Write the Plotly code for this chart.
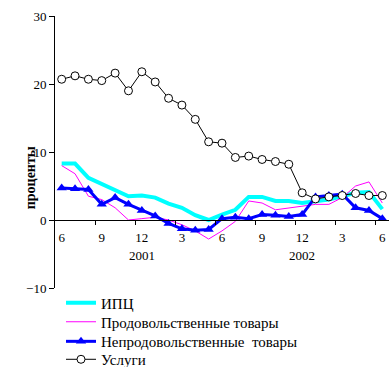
import plotly.graph_objects as go

months = ["6","7","8","9","10","11","12","1","2","3","4","5",
          "6","7","8","9","10","11","12","1","2","3","4","5","6"]
x_idx = list(range(len(months)))
tick_idx = [0, 3, 6, 9, 12, 15, 18, 21, 24]
tick_text = ["6", "9", "12", "3", "6", "9", "12", "3", "6"]
year_labels = ["2001", "2002"]
year_pos = [6, 18]

cpi = [8.3, 8.3, 6.2, 5.3, 4.4, 3.5, 3.6, 3.3, 2.4, 1.8, 0.7, 0.0,
       0.8, 1.5, 3.4, 3.4, 2.8, 2.8, 2.5, 2.7, 3.0, 3.5, 4.0, 4.1, 1.6]
food = [8.0, 6.8, 3.5, 3.0, 1.8, 0.0, 0.2, 0.4, 0.0, -0.7, -1.6, -2.8,
        -1.6, -0.2, 2.8, 2.5, 1.5, 1.8, 2.0, 2.3, 2.3, 3.3, 5.0, 5.6, 2.5]
nonfood = [4.7, 4.6, 4.5, 2.3, 3.3, 2.3, 1.4, 0.6, -0.5, -1.3, -1.5, -1.4,
           0.2, 0.4, 0.2, 0.8, 0.7, 0.5, 0.8, 3.4, 3.6, 3.8, 1.8, 1.4, 0.2]
services = [20.7, 21.2, 20.7, 20.5, 21.6, 19.0, 21.8, 20.3, 17.9, 16.9, 14.8, 11.5,
            11.3, 9.2, 9.4, 8.9, 8.6, 8.2, 4.0, 3.1, 3.4, 3.6, 3.9, 3.6, 3.6]

FONT = "Liberation Serif"
LEG_FONT = 15

fig = go.Figure()
fig.add_trace(go.Scatter(x=x_idx, y=cpi, mode="lines", name="ИПЦ", legend="legend",
                         line=dict(color="#00FFFF", width=4)))
fig.add_trace(go.Scatter(x=x_idx, y=food, mode="lines", name="Продовольственные товары",
                         legend="legend2", line=dict(color="#FF00FF", width=1)))
fig.add_trace(go.Scatter(x=x_idx, y=nonfood, mode="lines+markers",
                         name="Непродовольственные\u00a0 товары", legend="legend3",
                         line=dict(color="#0000FF", width=3),
                         marker=dict(symbol="triangle-up", size=9, color="#0000FF")))
fig.add_trace(go.Scatter(x=x_idx, y=services, mode="lines+markers", name="Услуги",
                         legend="legend4", line=dict(color="#000000", width=1),
                         marker=dict(symbol="circle", size=8, color="#FFFFFF",
                                     line=dict(color="#000000", width=1))))

def leg(yc):
    return dict(x=0.018, y=yc, xanchor="left", yanchor="middle",
                bgcolor="rgba(0,0,0,0)", font=dict(family=FONT, size=LEG_FONT),
                itemwidth=30)

fig.update_layout(
    width=391, height=367,
    margin=dict(l=55, r=2, t=16, b=79, autoexpand=False),
    paper_bgcolor="white", plot_bgcolor="white",
    font=dict(family=FONT, size=13, color="black"),
    showlegend=True,
    legend=leg(-0.055),
    legend2=leg(-0.125),
    legend3=leg(-0.197),
    legend4=leg(-0.263),
    xaxis=dict(range=[-0.5, 24.5], anchor="free", position=0.25,
               showline=True, linecolor="black", linewidth=1,
               showgrid=False, zeroline=False,
               tickmode="array", tickvals=tick_idx, ticktext=tick_text,
               ticks="", ticklabelstandoff=5, tickfont=dict(family=FONT, size=13),
               minor=dict(tickmode="array", tickvals=[2.5 + 3 * k for k in range(8)],
                          ticks="outside", ticklen=4, tickcolor="black", showgrid=False)),
    yaxis=dict(range=[-10, 30], tickvals=[-10, 0, 10, 20, 30],
               showline=True, linecolor="black", linewidth=1,
               ticks="outside", ticklen=5, tickcolor="black",
               showgrid=False, zeroline=False,
               tickfont=dict(family=FONT, size=13)),
)

for lbl, pos in zip(year_labels, year_pos):
    fig.add_annotation(x=pos, y=-5.15, xref="x", yref="y", text=lbl,
                       showarrow=False, font=dict(family=FONT, size=13))

fig.add_annotation(x=-0.102, y=6.2, xref="paper", yref="y", text="<b>проценты</b>",
                   textangle=-90, showarrow=False, font=dict(family=FONT, size=14))

fig.write_html("out.html")
